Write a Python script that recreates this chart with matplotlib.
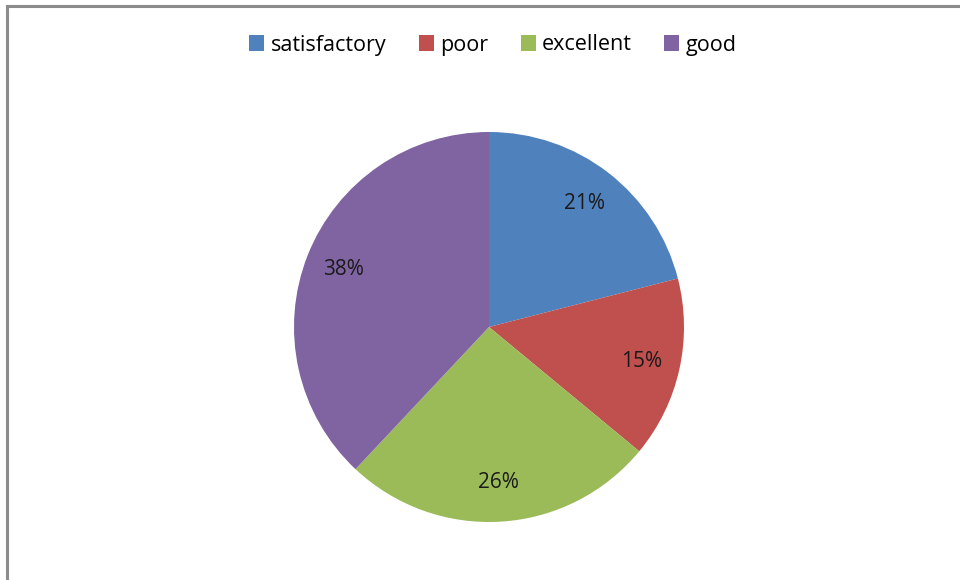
import matplotlib.pyplot as plt
from matplotlib.lines import Line2D

# 数据
labels = ['satisfactory', 'poor', 'excellent', 'good']
values = [21, 15, 26, 38]
colors = ['#4F81BD', '#C0504D', '#9BBB59', '#8064A2']

plt.rcParams['font.family'] = ['Open Sans', 'DejaVu Sans']

W, H = 960, 580
fig = plt.figure(figsize=(W / 100, H / 100), dpi=100)

# 外框
fig.add_artist(Line2D([6.5 / W, 6.5 / W], [0, 1 - 5.5 / H], color='#8c8c8c', lw=2.2))
fig.add_artist(Line2D([6.5 / W, 1], [1 - 5.5 / H, 1 - 5.5 / H], color='#8c8c8c', lw=2.2))

cx, cy, r = 489, 327, 195
ax = fig.add_axes([(cx - r) / W, (H - cy - r) / H, 2 * r / W, 2 * r / H])
wedges, texts, autotexts = ax.pie(values, colors=colors, startangle=90, counterclock=False,
                                  autopct='%d%%', pctdistance=0.8,
                                  textprops={'fontsize': 15, 'color': '#1a1a1a'})
ax.set_xlim(-1, 1)
ax.set_ylim(-1, 1)
ax.set_aspect('equal')
ax.axis('off')

fig.legend(wedges, labels, loc='center', bbox_to_anchor=(493 / W, 1 - 45 / H),
           ncol=4, frameon=False, fontsize=15.5, handlelength=0.7, handleheight=0.7,
           handletextpad=0.3, columnspacing=1.5)

plt.savefig('out.png', dpi=100)
